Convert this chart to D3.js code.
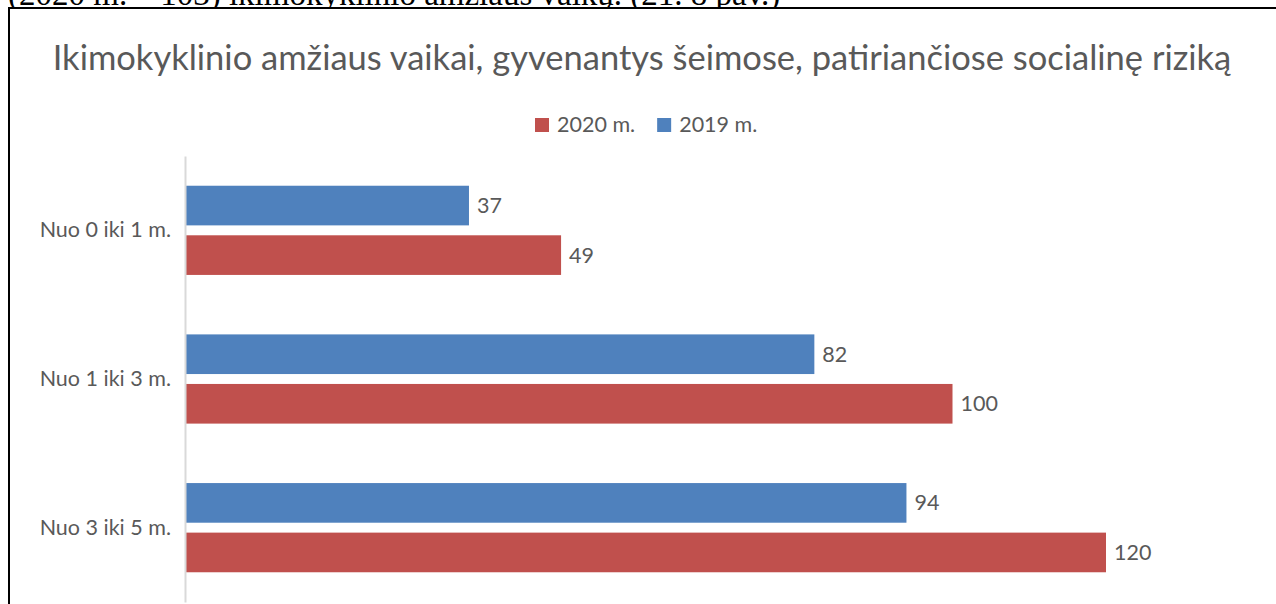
<!DOCTYPE html>
<html>
<head>
<meta charset="utf-8">
<script src="https://cdn.jsdelivr.net/npm/d3@7"></script>
<style>
  body { margin: 0; background: #fff; }
  svg { display: block; }
</style>
</head>
<body>
<div class="chart"></div>
<script>
// data
var categories = ["Nuo 0 iki 1 m.", "Nuo 1 iki 3 m.", "Nuo 3 iki 5 m."];
var series = ["2019 m.", "2020 m."];
var values2019 = [37, 82, 94];
var values2020 = [49, 100, 120];
var legendOrder = ["2020 m.", "2019 m."];

var width = 1276;
var height = 604;
var textColor = "#595959";
var font = "Lato, 'Open Sans', sans-serif";
var color = d3.scaleOrdinal()
    .domain(series)
    .range(["#4F81BD", "#C0504D"]);

var svg = d3.select(".chart").append("svg")
    .attr("width", width)
    .attr("height", height);

// document text above the chart, cut off at the top
svg.append("text")
    .attr("x", 8)
    .attr("y", 5)
    .attr("font-family", "'Liberation Serif', 'Times New Roman', serif")
    .attr("font-size", 33)
    .attr("fill", "#000")
    .text("(2020 m. – 103) ikimokyklinio amžiaus vaikų. (21. 8 pav.)");

// chart frame
svg.append("rect")
    .attr("x", 9)
    .attr("y", 8)
    .attr("width", width)
    .attr("height", height)
    .attr("fill", "#fff")
    .attr("stroke", "#000")
    .attr("stroke-width", 2);

svg.append("text")
    .attr("x", 642)
    .attr("y", 70)
    .attr("text-anchor", "middle")
    .attr("font-family", font)
    .attr("font-size", 34.5)
    .attr("fill", textColor)
    .text("Ikimokyklinio amžiaus vaikai, gyvenantys šeimose, patiriančiose socialinę riziką");

// legend
var legend = svg.append("g").attr("transform", "translate(535,118)");
var lx = 0;
legendOrder.forEach(function(s) {
  var item = legend.append("g").attr("transform", "translate(" + lx + ",0)");
  item.append("rect")
      .attr("width", 14)
      .attr("height", 14)
      .attr("fill", color(s));
  var t = item.append("text")
      .attr("x", 22)
      .attr("y", 14)
      .attr("font-family", font)
      .attr("font-size", 21.5)
      .attr("fill", textColor)
      .text(s);
  lx += 22 + t.node().getComputedTextLength() + 22;
});

var x = d3.scaleLinear()
    .domain([0, 120])
    .range([185, 1106]);

var y = d3.scaleBand()
    .domain(categories)
    .range([156, 602])
    .paddingInner(0.4)
    .paddingOuter(0.2);

var y1 = d3.scaleBand()
    .domain(series)
    .range([0, y.bandwidth()])
    .paddingInner(0.2);

var rows = categories.map(function(c, i) {
  return { cat: c, vals: [
    { s: "2019 m.", v: values2019[i] },
    { s: "2020 m.", v: values2020[i] }
  ] };
});

var group = svg.selectAll(".group")
    .data(rows)
    .enter().append("g")
      .attr("class", "group")
      .attr("transform", function(d) { return "translate(0," + y(d.cat) + ")"; });

group.selectAll("rect")
    .data(function(d) { return d.vals; })
    .enter().append("rect")
      .attr("x", x(0))
      .attr("y", function(d) { return y1(d.s); })
      .attr("width", function(d) { return x(d.v) - x(0); })
      .attr("height", y1.bandwidth())
      .attr("fill", function(d) { return color(d.s); });

group.selectAll(".label")
    .data(function(d) { return d.vals; })
    .enter().append("text")
      .attr("class", "label")
      .attr("x", function(d) { return x(d.v) + 8; })
      .attr("y", function(d) { return y1(d.s) + y1.bandwidth() / 2; })
      .attr("dy", "0.35em")
      .attr("font-family", font)
      .attr("font-size", 21.5)
      .attr("fill", textColor)
      .text(function(d) { return d.v; });

// category axis
var yAxis = svg.append("g")
    .attr("transform", "translate(" + x(0) + ",0)")
    .call(d3.axisLeft(y).tickSize(0).tickPadding(14));
yAxis.select(".domain").attr("stroke", "#d9d9d9").attr("stroke-width", 2);
yAxis.selectAll("text")
    .attr("font-family", font)
    .attr("font-size", 21.5)
    .attr("fill", textColor);
</script>
</body>
</html>
